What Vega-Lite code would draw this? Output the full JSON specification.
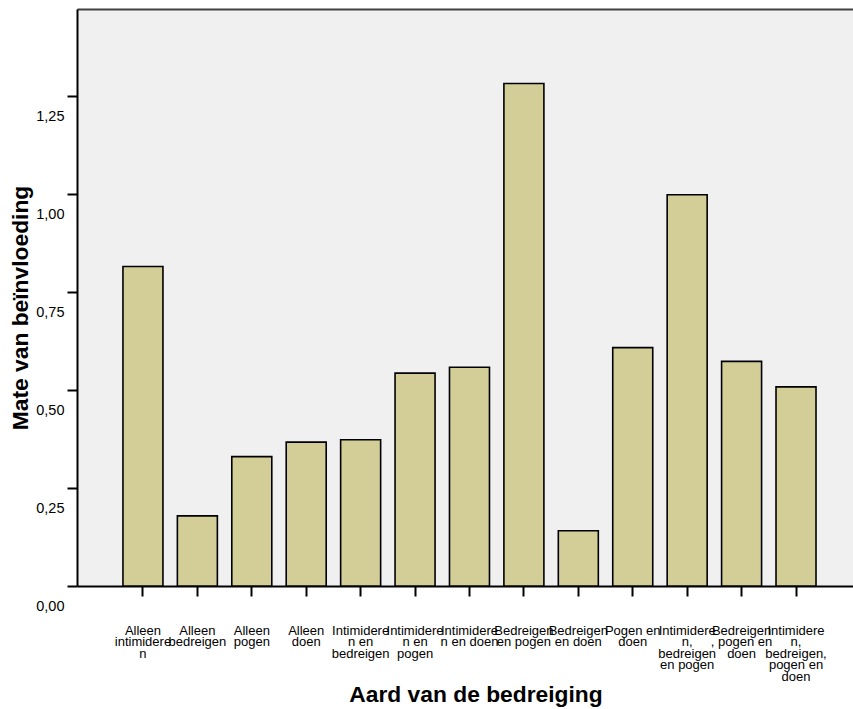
{
  "$schema": "https://vega.github.io/schema/vega-lite/v6.json",
  "width": 776,
  "height": 577,
  "autosize": {"type": "none"},
  "padding": {"left": 77, "top": 9, "right": 0, "bottom": 123},
  "background": "white",
  "config": {"view": {"fill": "#f0f0f0", "stroke": null}, "font": "Liberation Sans"},
  "data": {
    "values": [
      {"aard": "Alleen intimideren", "mate": 0.815},
      {"aard": "Alleen bedreigen", "mate": 0.179},
      {"aard": "Alleen pogen", "mate": 0.330},
      {"aard": "Alleen doen", "mate": 0.367},
      {"aard": "Intimideren en bedreigen", "mate": 0.373},
      {"aard": "Intimideren en pogen", "mate": 0.543},
      {"aard": "Intimideren en doen", "mate": 0.558},
      {"aard": "Bedreigen en pogen", "mate": 1.282},
      {"aard": "Bedreigen en doen", "mate": 0.141},
      {"aard": "Pogen en doen", "mate": 0.608},
      {"aard": "Intimideren, bedreigen en pogen", "mate": 0.998},
      {"aard": "Bedreigen, pogen en doen", "mate": 0.573},
      {"aard": "Intimideren, bedreigen, pogen en doen", "mate": 0.508}
    ]
  },
  "layer": [
    {
      "mark": {"type": "bar", "fill": "#d3ce97", "stroke": "black", "strokeWidth": 1.6},
      "encoding": {
        "x": {
          "field": "aard",
          "type": "nominal",
          "sort": null,
          "scale": {"paddingInner": 0.265, "paddingOuter": 0.762, "align": 0.554, "round": false},
          "axis": {
            "title": "Aard van de bedreiging",
            "titleFont": "Liberation Sans",
            "titleFontSize": 22.8,
            "titleFontWeight": "bold",
            "titleColor": "black",
            "titleX": 398.5,
            "titleY": 115,
            "titleAlign": "center",
            "titleBaseline": "alphabetic",
            "labelExpr": "({'Alleen intimideren':['Alleen','intimidere','n'],'Alleen bedreigen':['Alleen','bedreigen'],'Alleen pogen':['Alleen','pogen'],'Alleen doen':['Alleen','doen'],'Intimideren en bedreigen':['Intimidere','n en','bedreigen'],'Intimideren en pogen':['Intimidere','n en','pogen'],'Intimideren en doen':['Intimidere','n en doen'],'Bedreigen en pogen':['Bedreigen','en pogen'],'Bedreigen en doen':['Bedreigen','en doen'],'Pogen en doen':['Pogen en','doen'],'Intimideren, bedreigen en pogen':['Intimidere','n,','bedreigen','en pogen'],'Bedreigen, pogen en doen':['Bedreigen',', pogen en','doen'],'Intimideren, bedreigen, pogen en doen':['Intimidere','n,','bedreigen,','pogen en','doen']})[datum.value]",
            "labelAngle": 0,
            "labelFont": "Liberation Sans",
            "labelFontSize": 13,
            "labelColor": "black",
            "labelAlign": "center",
            "labelBaseline": "alphabetic",
            "labelLineHeight": 11.6,
            "labelPadding": 38,
            "labelOverlap": false,
            "labelFlush": false,
            "tickSize": 10,
            "tickWidth": 2,
            "tickColor": "black",
            "domainColor": "black",
            "domainWidth": 2
          }
        },
        "y": {
          "field": "mate",
          "type": "quantitative",
          "scale": {"domain": [0, 1.472], "nice": false, "zero": true},
          "axis": {
            "title": "Mate van beïnvloeding",
            "titleFont": "Liberation Sans",
            "titleFontSize": 22.8,
            "titleFontWeight": "bold",
            "titleColor": "black",
            "titleX": -50,
            "titleY": 298.5,
            "titleAngle": -90,
            "titleAlign": "center",
            "titleBaseline": "alphabetic",
            "values": [0, 0.25, 0.5, 0.75, 1, 1.25],
            "labelExpr": "replace(format(datum.value, '.2f'), '.', ',')",
            "labelFont": "Liberation Sans",
            "labelFontSize": 14.5,
            "labelColor": "black",
            "labelPadding": 3,
            "labelOffset": 20,
            "tickSize": 10,
            "tickWidth": 2,
            "tickColor": "black",
            "domainColor": "black",
            "domainWidth": 2,
            "grid": false
          }
        }
      }
    },
    {
      "mark": {"type": "bar", "opacity": 0},
      "encoding": {
        "x": {
          "field": "aard",
          "type": "nominal",
          "sort": null,
          "axis": {"orient": "top", "labels": false, "ticks": false, "title": null, "domainColor": "#404040", "domainWidth": 2}
        },
        "y": {"field": "mate", "type": "quantitative"}
      }
    }
  ],
  "resolve": {"axis": {"x": "independent"}}
}
